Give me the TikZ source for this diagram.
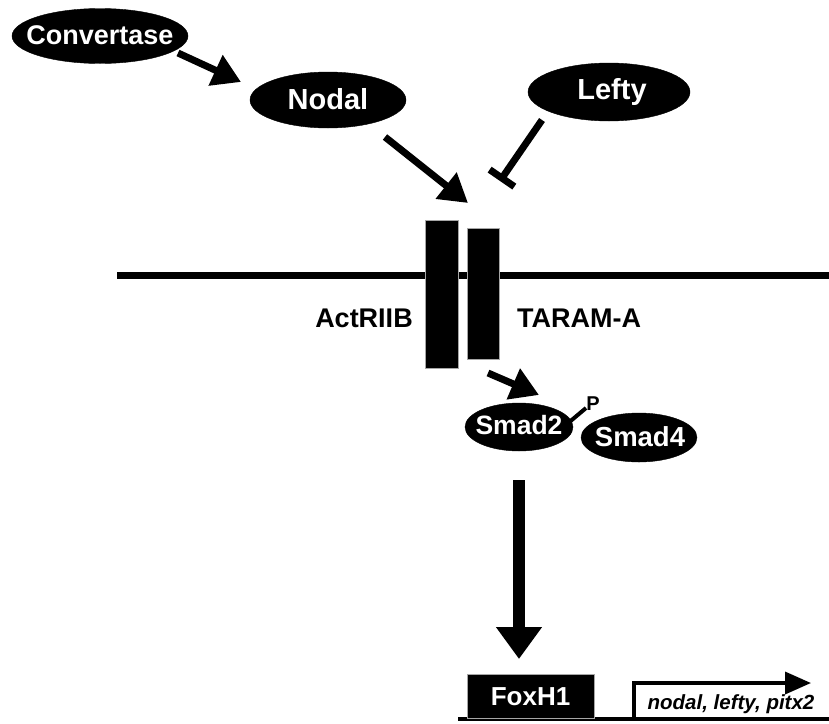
\documentclass[tikz,border=0pt]{standalone}
\usepackage{fontspec}
\setmainfont{Liberation Sans}
\usetikzlibrary{shapes.geometric,arrows.meta}
\begin{document}
\begin{tikzpicture}[x=1pt,y=-1pt,
  ell/.style={ellipse,fill=black,draw=black,inner sep=0pt},
  etxt/.style={inner sep=0pt,text=white,font=\bfseries\fontsize{27}{27}\selectfont},
  lbl/.style={inner sep=0pt,font=\bfseries\fontsize{27}{27}\selectfont},
  arr/.style={line width=7pt,-{Triangle[length=28pt,width=32pt]}},
  bigarr/.style={line width=12pt,-{Triangle[length=32pt,width=44pt]}},
  inh/.style={line width=7pt,-{Bar[width=30pt,line width=7pt]}},
  rec/.style={fill=black,draw=gray!70,line width=1pt}]
\useasboundingbox (0,0) rectangle (829,723);
% nodes
\node[ell,minimum width=176pt,minimum height=55pt] (conv) at (100,36) {};
\node[etxt] (convt) at (100,35) {Convertase};
\node[ell,minimum width=156pt,minimum height=56pt] (nodal) at (328,100) {};
\node[etxt,font=\bfseries\fontsize{29}{29}\selectfont] (nodalt) at (328,99) {Nodal};
\node[ell,minimum width=162pt,minimum height=58pt] (lefty) at (609,92) {};
\node[etxt,font=\bfseries\fontsize{29}{29}\selectfont] (leftyt) at (612,92) {Lefty};
% membrane
\coordinate (memL) at (117,275);
\coordinate (memR) at (829,275);
\draw[line width=7pt] (memL) -- (memR);
% receptors
\node[rec,minimum width=33pt,minimum height=148pt,inner sep=0pt] (act) at (441.5,294) {};
\node[rec,minimum width=32pt,minimum height=131pt,inner sep=0pt] (taram) at (483,293.5) {};
\node[lbl] (actl) at (364,318) {ActRIIB};
\node[lbl,anchor=west] (taraml) at (517,318) {TARAM-A};
% smads
\node[ell,minimum width=108pt,minimum height=48pt] (smad2) at (519,427) {};
\node[etxt,font=\bfseries\fontsize{26.5}{26.5}\selectfont] (smad2t) at (519,425) {Smad2};
\node[ell,minimum width=116pt,minimum height=49pt] (smad4) at (639,437.5) {};
\node[etxt,font=\bfseries\fontsize{27.5}{27.5}\selectfont] (smad4t) at (640,437) {Smad4};
\node[inner sep=0pt,font=\bfseries\fontsize{20}{20}\selectfont] (p) at (593,404) {P};
\coordinate (pA) at (567,424);
\coordinate (pB) at (586,408);
\draw[line width=4pt] (pA) -- (pB);
% arrows
\coordinate (c1) at (178,53);
\coordinate (c2) at (241,82);
\draw[arr] (c1) -- (c2);
\coordinate (n1) at (385,137);
\coordinate (n2) at (468,203);
\draw[arr] (n1) -- (n2);
\coordinate (l1) at (542,120);
\coordinate (l2) at (500,181);
\draw[inh] (l1) -- (l2);
\coordinate (r1) at (488,373);
\coordinate (r2) at (539,395);
\draw[arr] (r1) -- (r2);
\coordinate (s1) at (519,480);
\coordinate (s2) at (519,659);
\draw[bigarr] (s1) -- (s2);
% DNA
\coordinate (dnaL) at (458,719);
\coordinate (dnaR) at (829,719);
\draw[line width=4pt] (dnaL) -- (dnaR);
\node[fill=black,draw=gray!70,line width=1pt,minimum width=127pt,minimum height=44pt,inner sep=0pt,anchor=south,text=white,font=\bfseries\fontsize{26}{26}\selectfont] (fox) at (530.5,719) {FoxH1};
\coordinate (g0) at (634,719);
\coordinate (g1) at (634,683);
\coordinate (g2) at (811,683);
\draw[line width=3.5pt,-{Triangle[length=26pt,width=22pt]}] (g0) -- (g1) -- (g2);
\node[inner sep=0pt,font=\bfseries\itshape\fontsize{20.5}{20.5}\selectfont] (genes) at (731,704) {nodal, lefty, pitx2};
\end{tikzpicture}
\end{document}
